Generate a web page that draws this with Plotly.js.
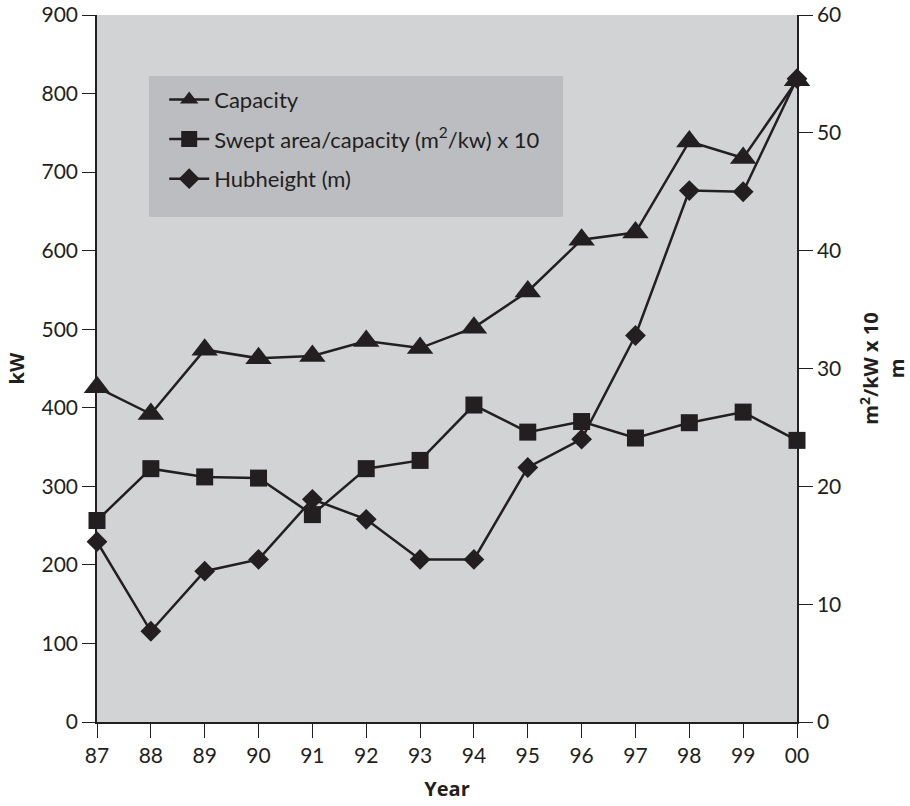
<!DOCTYPE html>
<html>
<head>
<meta charset="utf-8">
<script src="https://cdn.plot.ly/plotly-3.0.1.min.js"></script>
<style>html,body{margin:0;padding:0;background:#fff;}#chart{width:910px;height:806px;}</style>
</head>
<body>
<div id="chart"></div>
<script>
const years = ["87","88","89","90","91","92","93","94","95","96","97","98","99","00"];
const capacity = [426, 392, 474, 463, 466, 485, 476, 502, 548, 614, 623, 739, 718, 817];
const sweptArea = [17.1, 21.5, 20.8, 20.7, 17.6, 21.5, 22.2, 26.9, 24.6, 25.5, 24.1, 25.4, 26.3, 23.9];
const hubHeight = [15.3, 7.7, 12.8, 13.8, 18.9, 17.2, 13.8, 13.8, 21.6, 24.0, 32.8, 45.1, 45.0, 54.6];
const leftTicks = [0, 100, 200, 300, 400, 500, 600, 700, 800, 900];
const rightTicks = [0, 10, 20, 30, 40, 50, 60];

const ink = "#231f20";
const tickFont = {family: "Lato, 'Open Sans', sans-serif", size: 21, color: ink};
const titleFont = {family: "'Open Sans', sans-serif", size: 20, color: ink, weight: "bold"};

const traces = [
  {x: years, y: capacity, name: "Capacity", type: "scatter", mode: "lines+markers",
   legendgroup: "a", cliponaxis: false,
   line: {color: ink, width: 2.5}, marker: {symbol: "triangle-up", size: 23, color: ink}},
  {x: years, y: sweptArea, name: "Swept area/capacity (m<sup>2</sup>/kw) x 10", type: "scatter",
   mode: "lines+markers", yaxis: "y2", legendgroup: "b", cliponaxis: false,
   line: {color: ink, width: 2.5}, marker: {symbol: "square", size: 17, color: ink}},
  {x: years, y: hubHeight, name: "Hubheight (m)", type: "scatter", mode: "lines+markers",
   yaxis: "y2", legendgroup: "c", cliponaxis: false,
   line: {color: ink, width: 2.5}, marker: {symbol: "diamond", size: 16, color: ink}}
];

const layout = {
  width: 910, height: 806,
  margin: {l: 97, r: 113, t: 15, b: 84},
  paper_bgcolor: "#ffffff",
  plot_bgcolor: "#d1d3d5",
  showlegend: true,
  legend: {
    x: 0.096, y: 0.91, xanchor: "left", yanchor: "top",
    bgcolor: "rgba(0,0,0,0)", borderwidth: 0,
    font: {family: "Lato, sans-serif", size: 22, color: ink},
    itemwidth: 40, tracegroupgap: 8
  },
  shapes: [{
    type: "rect", xref: "paper", yref: "paper", layer: "below",
    x0: (149 - 97) / 700, x1: (563 - 97) / 700,
    y0: (722 - 217) / 707, y1: (722 - 76) / 707,
    fillcolor: "#bcbdc0", line: {width: 0}
  }],
  xaxis: {
    type: "category", range: [0, 13], showgrid: false, zeroline: false,
    showline: true, linecolor: ink, linewidth: 1.5,
    ticks: "outside", ticklen: 14, tickwidth: 1.2, tickcolor: ink,
    tickfont: tickFont,
    title: {text: "Year", font: titleFont, standoff: 16}
  },
  yaxis: {
    range: [0, 900], tickvals: leftTicks, showgrid: false, zeroline: false,
    showline: true, linecolor: ink, linewidth: 1.5,
    ticks: "outside", ticklen: 13, tickwidth: 1.2, tickcolor: ink,
    tickfont: tickFont,
    title: {text: "kW", font: titleFont, standoff: 12}
  },
  yaxis2: {
    overlaying: "y", side: "right",
    range: [0, 60], tickvals: rightTicks, showgrid: false, zeroline: false,
    showline: true, linecolor: ink, linewidth: 1.5,
    ticks: "outside", ticklen: 14, tickwidth: 1.2, tickcolor: ink,
    tickfont: tickFont,
    title: {text: "m<sup>2</sup>/kW x 10<br>m", font: titleFont, standoff: 28}
  }
};

Plotly.newPlot("chart", traces, layout, {displayModeBar: false, responsive: false});
</script>
</body>
</html>
